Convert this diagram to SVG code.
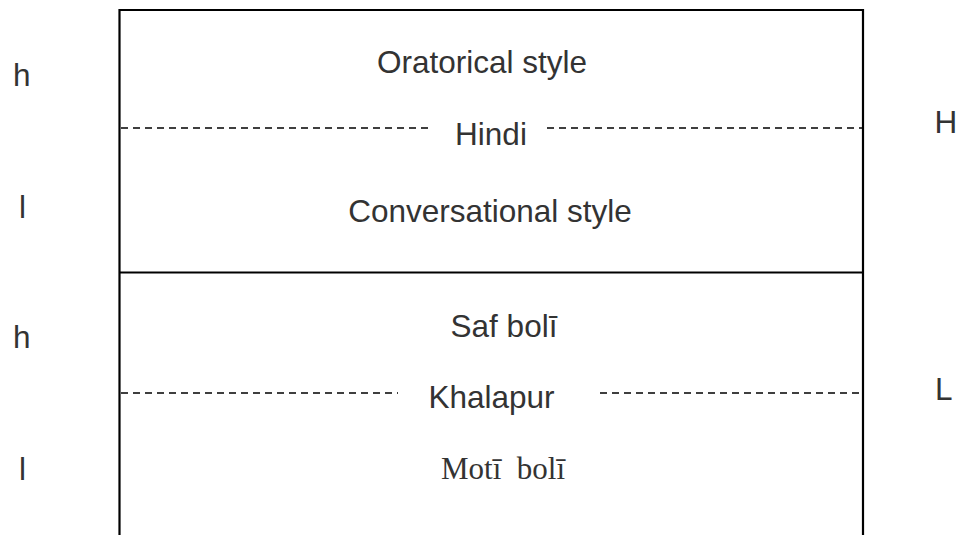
<svg xmlns="http://www.w3.org/2000/svg" width="963" height="535" viewBox="0 0 963 535">
<style>
.t{font-family:"Liberation Sans",Arial,sans-serif;font-size:31.5px;fill:#333}
.c{text-anchor:middle}
.s{font-family:"Liberation Serif","Times New Roman",serif;font-size:31px;fill:#333;text-anchor:middle}
.frame{stroke:#000;stroke-width:2.2;fill:none}
.dash{stroke:#000;stroke-width:1.5;stroke-dasharray:7 5;fill:none}
</style>
<g id="frame">
<path class="frame" d="M119.5,535 V10 H863 V535"/>
<line class="frame" x1="119.5" y1="272.5" x2="863" y2="272.5"/>
</g>
<g id="connectors">
<line class="dash" x1="121" y1="128" x2="429" y2="128"/>
<line class="dash" x1="547" y1="128" x2="862" y2="128"/>
<line class="dash" x1="121" y1="393" x2="398" y2="393"/>
<line class="dash" x1="600" y1="393" x2="862" y2="393"/>
</g>
<g id="oratorical"><text class="t c" x="482" y="73">Oratorical style</text></g>
<g id="hindi"><text class="t c" x="491" y="145">Hindi</text></g>
<g id="conversational"><text class="t c" x="490" y="222">Conversational style</text></g>
<g id="saf"><text class="t c" x="504" y="337">Saf bolī</text></g>
<g id="khalapur"><text class="t c" x="491.5" y="408">Khalapur</text></g>
<g id="moti"><text class="s" x="503" y="479" xml:space="preserve">Motī  bolī</text></g>
<g id="left-labels">
<text class="t" x="13" y="86">h</text>
<text class="t" x="19" y="218">l</text>
<text class="t" x="13" y="348">h</text>
<text class="t" x="19" y="480">l</text>
</g>
<g id="right-labels">
<text class="t" x="934.5" y="133">H</text>
<text class="t" x="935" y="400">L</text>
</g>
</svg>
